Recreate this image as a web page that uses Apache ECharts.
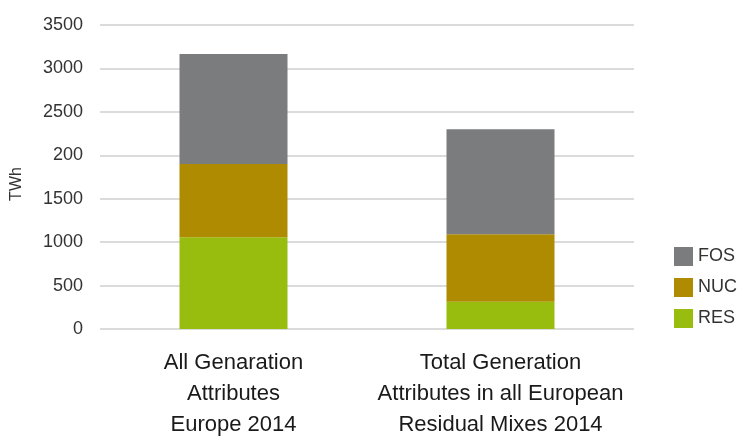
<!DOCTYPE html>
<html>
<head>
<meta charset="utf-8">
<script src="https://cdn.jsdelivr.net/npm/echarts@6/dist/echarts.min.js"></script>
<style>html,body{margin:0;padding:0;background:#fff;}#c{width:739px;height:437px;}</style>
</head>
<body>
<div id="c"></div>
<script>
var categories = ['All Genaration\nAttributes\nEurope 2014', 'Total Generation\nAttributes in all European\nResidual Mixes 2014'];
var RES = [1056, 315];
var NUC = [844, 775];
var FOS = [1266, 1209];
var yTickLabels = ['0', '500', '1000', '1500', '200', '2500', '3000', '3500'];
var legendOrder = ['FOS', 'NUC', 'RES'];

var font = '"Liberation Sans", Arial, sans-serif';
var chart = echarts.init(document.getElementById('c'), null, {renderer: 'canvas'});
chart.setOption({
  animation: false,
  backgroundColor: '#ffffff',
  grid: {left: 100, right: 105, top: 25, bottom: 108, containLabel: false, outerBoundsMode: 'none'},
  legend: {
    orient: 'vertical', left: 669, top: 242,
    itemWidth: 19, itemHeight: 19, itemGap: 12,
    data: legendOrder,
    textStyle: {fontFamily: font, fontSize: 18, color: '#333333'},
    icon: 'rect'
  },
  xAxis: {
    type: 'category', data: categories,
    axisLine: {show: false}, axisTick: {show: false},
    axisLabel: {fontFamily: font, fontSize: 22, lineHeight: 31, color: '#1a1a1a', margin: 18, interval: 0}
  },
  yAxis: {
    type: 'value', min: 0, max: 3500, interval: 500,
    name: 'TWh', nameLocation: 'middle', nameRotate: 90, nameGap: 75,
    nameTextStyle: {fontFamily: font, fontSize: 16, color: '#333333', padding: [0, 14, 0, 0]},
    axisLine: {show: false}, axisTick: {show: false},
    splitLine: {lineStyle: {color: '#cfcfcf', width: 1.5}},
    axisLabel: {
      fontFamily: font, fontSize: 18, color: '#333333', margin: 17,
      formatter: function (v) { return yTickLabels[Math.round(v / 500)]; }
    }
  },
  series: [
    {name: 'RES', type: 'bar', stack: 't', data: RES, barWidth: 108, itemStyle: {color: '#98bd0f'}},
    {name: 'NUC', type: 'bar', stack: 't', data: NUC, barWidth: 108, itemStyle: {color: '#ae8b00'}},
    {name: 'FOS', type: 'bar', stack: 't', data: FOS, barWidth: 108, itemStyle: {color: '#7b7c7e'}}
  ]
});
</script>
</body>
</html>
